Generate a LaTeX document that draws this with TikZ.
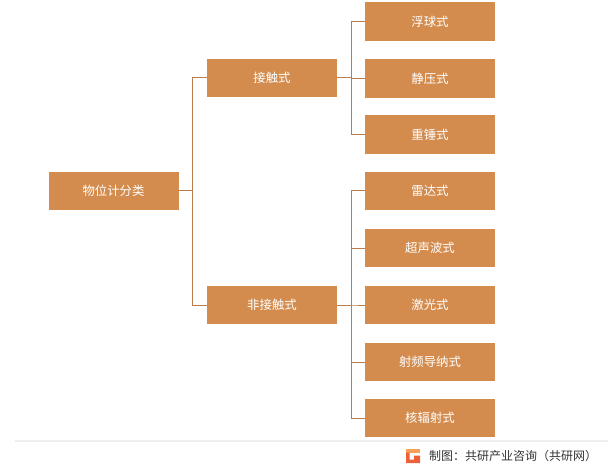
\documentclass[tikz,border=0pt]{standalone}
\usepackage{fontspec}
\setmainfont{Noto Sans CJK SC}
\usetikzlibrary{positioning}
\definecolor{boxorange}{RGB}{211,140,77}
\definecolor{linebrown}{RGB}{186,124,76}
\definecolor{rulegray}{RGB}{238,238,238}
\definecolor{logored}{RGB}{236,96,60}
\definecolor{logoorange}{RGB}{246,160,90}

\begin{document}
\begin{tikzpicture}[x=1pt,y=-1pt,
    catbox/.style={fill=boxorange,text=white,minimum width=130pt,minimum height=38.5pt,
        inner sep=0pt,font=\fontsize{12.4}{14}\selectfont},
    branch/.style={linebrown,line width=1pt}]
    \useasboundingbox (0,0) rectangle (608,468);

    \node[catbox] (root) at (113.5,191) {物位计分类};
    \node[catbox] (contact) at (272,78) {接触式};
    \node[catbox] (noncontact) at (272,305) {非接触式};

    \node[catbox] (float) at (430,21.5) {浮球式};
    \node[catbox] (static) at (430,78.5) {静压式};
    \node[catbox] (weight) at (430,134.5) {重锤式};

    \node[catbox] (radar) at (430,191) {雷达式};
    \node[catbox] (ultra) at (430,248) {超声波式};
    \node[catbox] (laser) at (430,305) {激光式};
    \node[catbox] (rfadm) at (430,362) {射频导纳式};
    \node[catbox] (nuclear) at (430,418) {核辐射式};

    \foreach \kid in {contact,noncontact}
        \draw[branch] (root.east) -- ++(14,0) |- (\kid.west);
    \foreach \kid in {float,static,weight}
        \draw[branch] (contact.east) -- ++(14,0) |- (\kid.west);
    \foreach \kid in {radar,ultra,laser,rfadm,nuclear}
        \draw[branch] (noncontact.east) -- ++(14,0) |- (\kid.west);

    % source line
    \draw[rulegray,line width=1.5pt] (15,441) -- (608,441);
    \fill[logoorange] (406,449) rectangle (420,452.5);
    \fill[logored] (406,452.5) rectangle (409.5,463) (409.5,459.5) rectangle (420,463)
        (414,455.5) rectangle (420,459.5);
    \node[anchor=west,inner sep=0pt,text=black!80,font=\fontsize{12}{14}\selectfont]
        (source) at (429,456) {制图：共研产业咨询（共研网）};
\end{tikzpicture}
\end{document}
